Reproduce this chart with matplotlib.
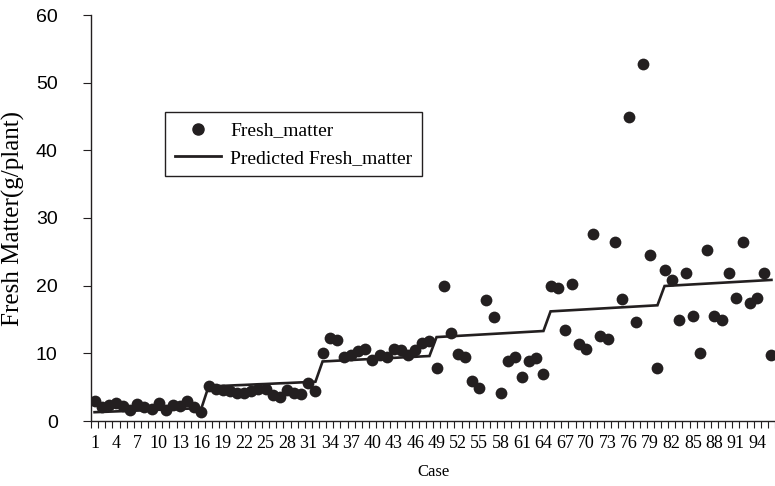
import matplotlib
matplotlib.use("Agg")
import matplotlib.pyplot as plt
from matplotlib.lines import Line2D
import numpy as np

cases = list(range(1, 97))

fresh_matter = [
    3.0, 2.0, 2.4, 2.6, 2.2, 1.6, 2.5, 2.0, 1.8, 2.7, 1.6, 2.4, 2.2, 2.9, 2.0, 1.4,
    5.1, 4.7, 4.6, 4.5, 4.1, 4.2, 4.5, 4.7, 4.8, 3.8, 3.6, 4.6, 4.2, 4.0, 5.6, 4.5,
    10.0, 12.3, 12.0, 9.4, 9.7, 10.4, 10.6, 9.0, 9.8, 9.4, 10.7, 10.5, 9.7, 10.5, 11.5, 11.8,
    7.9, 19.9, 13.0, 9.9, 9.5, 5.9, 4.9, 17.9, 15.3, 4.1, 8.9, 9.5, 6.5, 8.9, 9.3, 7.0,
    20.0, 19.7, 13.5, 20.2, 11.4, 10.6, 27.7, 12.6, 12.1, 26.4, 18.0, 44.9, 14.6, 52.8, 24.6, 7.9,
    22.3, 20.8, 14.9, 21.8, 15.5, 10.0, 25.3, 15.5, 14.9, 21.9, 18.2, 26.4, 17.5, 18.2, 21.9, 9.7,
]

predicted = [
    1.30, 1.34, 1.38, 1.42, 1.46, 1.50, 1.54, 1.58, 1.62, 1.66, 1.70, 1.74, 1.78, 1.82, 1.86, 1.90,
    5.10, 5.15, 5.19, 5.24, 5.29, 5.33, 5.38, 5.43, 5.47, 5.52, 5.57, 5.61, 5.66, 5.71, 5.75, 5.80,
    8.80, 8.85, 8.91, 8.96, 9.01, 9.07, 9.12, 9.17, 9.23, 9.28, 9.33, 9.39, 9.44, 9.49, 9.55, 9.60,
    12.40, 12.46, 12.52, 12.58, 12.64, 12.70, 12.76, 12.82, 12.88, 12.94, 13.00, 13.06, 13.12, 13.18, 13.24, 13.30,
    16.20, 16.26, 16.32, 16.38, 16.44, 16.50, 16.56, 16.62, 16.68, 16.74, 16.80, 16.86, 16.92, 16.98, 17.04, 17.10,
    19.95, 20.01, 20.07, 20.13, 20.19, 20.25, 20.31, 20.37, 20.43, 20.49, 20.55, 20.61, 20.67, 20.73, 20.79, 20.85,
]

y_ticks = [0, 10, 20, 30, 40, 50, 60]
x_tick_labels = [str(c) for c in cases[::3]]

W, H = 775, 486
fig = plt.figure(figsize=(W / 100, H / 100), dpi=100)
ax = fig.add_axes([91 / W, 1 - 421 / H, (775 - 91) / W, (421 - 15) / H])

col = "#231f20"
ax.plot(cases, predicted, color=col, lw=1.9, zorder=2, solid_joinstyle="miter")
ax.scatter(cases, fresh_matter, s=72, color=col, zorder=3, linewidths=0)

ax.set_xlim(0.5, 96.5)
ax.set_ylim(0, 60)
ax.set_yticks(y_ticks)
ax.set_yticklabels([str(v) for v in y_ticks], fontfamily="Liberation Sans", fontsize=14)
ax.set_xticks(cases[::3])
ax.set_xticklabels(x_tick_labels, fontfamily="Liberation Serif", fontsize=13)
ax.set_xticks(np.arange(0.5, 97, 1), minor=True)
ax.tick_params(axis="x", which="major", length=0, pad=10)
ax.tick_params(axis="x", which="minor", length=5, width=0.8, direction="out", color=col)
ax.tick_params(axis="y", which="major", length=6, width=0.8, direction="out", color=col, pad=18)

for s in ["top", "right"]:
    ax.spines[s].set_visible(False)
for s in ["left", "bottom"]:
    ax.spines[s].set_linewidth(1.0)
    ax.spines[s].set_color(col)

ax.set_xlabel("Case", fontfamily="Liberation Serif", fontsize=12, labelpad=9)
ax.set_ylabel("Fresh Matter(g/plant)", fontfamily="Liberation Serif", fontsize=18, labelpad=8)

handles = [
    Line2D([], [], marker="o", linestyle="none", color=col, markersize=8),
    Line2D([], [], color=col, lw=2),
]
leg = fig.legend(handles, ["Fresh_matter", "Predicted Fresh_matter"],
                 loc="upper left", bbox_to_anchor=(165 / W, 1 - 112 / H),
                 prop={"family": "Liberation Serif", "size": 14},
                 frameon=True, fancybox=False, edgecolor=col, framealpha=1,
                 borderaxespad=0, handlelength=2.4, borderpad=0.5, labelspacing=0.5,
                 handletextpad=0.45)
leg.get_frame().set_linewidth(1.0)

fig.savefig("out.png", dpi=100)
